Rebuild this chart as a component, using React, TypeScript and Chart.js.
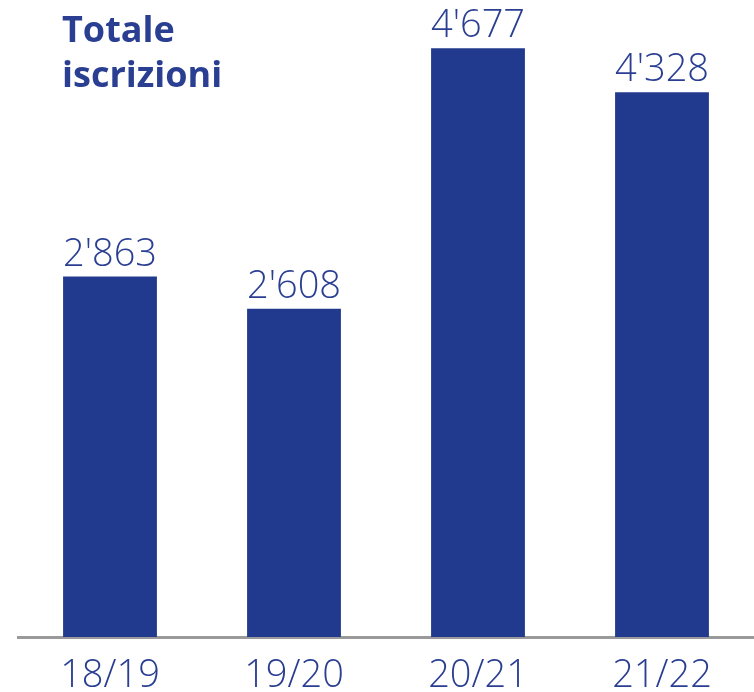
import React, { useEffect, useRef } from "react";
import { Chart, registerables } from "chart.js";

Chart.register(...registerables);

const categories = ["18/19", "19/20", "20/21", "21/22"];
const values = [2863, 2608, 4677, 4328];
const titleLines = ["Totale", "iscrizioni"];

const BAR_COLOR = "#223a8e";
const TEXT_COLOR = "#2a3f92";
const FONT = "'Open Sans', 'Noto Sans', sans-serif";

const fmt = (v: number) => String(v).replace(/\B(?=(\d{3})+(?!\d))/g, "'");

const valueLabels = {
  id: "valueLabels",
  afterDatasetsDraw(chart: any) {
    const ctx = chart.ctx;
    const meta = chart.getDatasetMeta(0);
    ctx.save();
    ctx.fillStyle = TEXT_COLOR;
    ctx.font = `300 38px ${FONT}`;
    ctx.textAlign = "center";
    ctx.textBaseline = "alphabetic";
    meta.data.forEach((bar: any, i: number) => {
      ctx.fillText(fmt(values[i]), bar.x, bar.y - 11);
    });
    ctx.restore();
  },
};

export default function App() {
  const ref = useRef<HTMLCanvasElement | null>(null);
  useEffect(() => {
    document.body.style.margin = "0";
    const chart = new Chart(ref.current!, {
      type: "bar",
      data: {
        labels: categories,
        datasets: [
          {
            data: values,
            backgroundColor: BAR_COLOR,
            barPercentage: 0.51,
            categoryPercentage: 1,
          },
        ],
      },
      options: {
        animation: false,
        responsive: false,
        maintainAspectRatio: false,
        layout: { padding: { left: 18, right: -2, top: 0, bottom: 0 } },
        plugins: {
          legend: { display: false },
          tooltip: { enabled: false },
          title: { display: false },
        },
        scales: {
          y: { display: false, min: 0, max: 5060 },
          x: {
            grid: { display: false },
            border: { display: true, color: "#9a9a9a", width: 3 },
            ticks: {
              color: TEXT_COLOR,
              font: { family: FONT, size: 38, weight: "300" as any },
              padding: 8,
            },
            afterFit: (scale: any) => {
              scale.height = 55;
            },
          },
        },
      },
      plugins: [valueLabels],
    });
    return () => chart.destroy();
  }, []);
  return (
    <div style={{ position: "relative", width: 754, height: 692, overflow: "hidden" }}>
      <canvas ref={ref} width={754} height={692} style={{ display: "block" }} />
      <div
        style={{
          position: "absolute",
          left: 62,
          top: 6,
          color: TEXT_COLOR,
          fontFamily: FONT,
          fontWeight: 700,
          fontSize: 36,
          lineHeight: "45px",
        }}
      >
        {titleLines.map((t) => (
          <div key={t}>{t}</div>
        ))}
      </div>
    </div>
  );
}
